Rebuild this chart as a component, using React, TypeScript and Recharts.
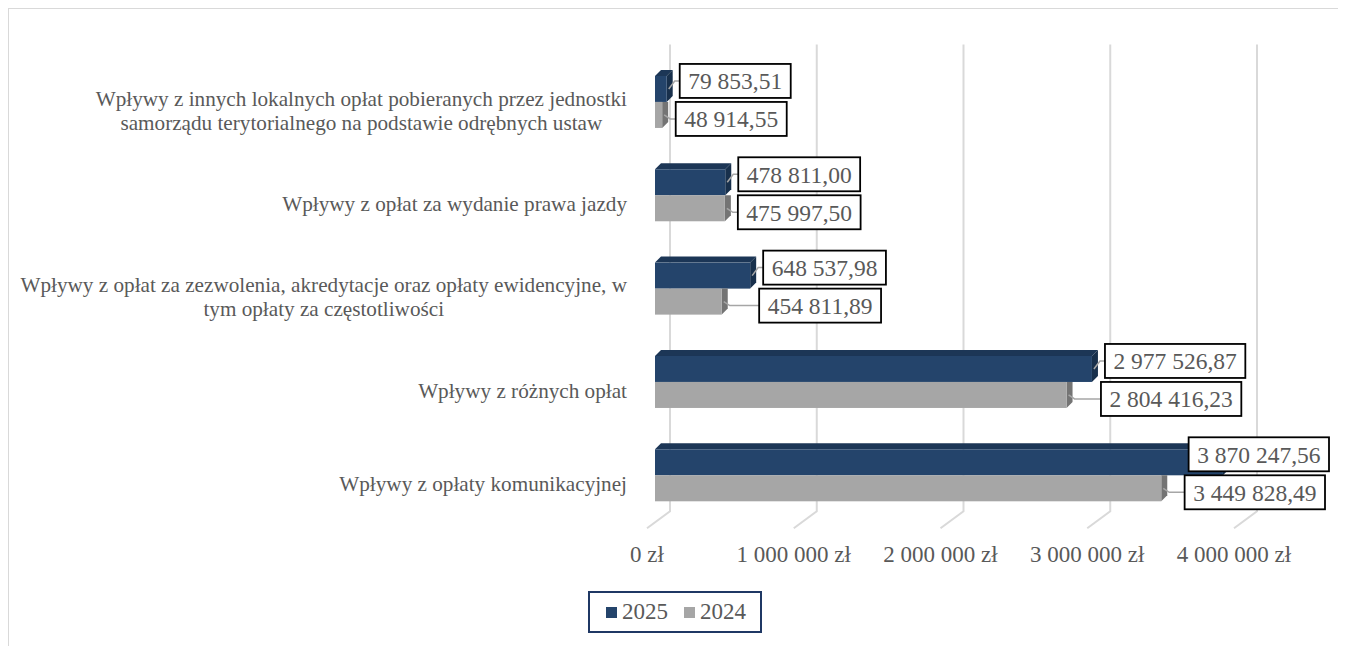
import React from "react";
import {
  BarChart,
  Bar,
  XAxis,
  YAxis,
  CartesianGrid,
  Legend,
  LabelList,
} from "recharts";

// categories, top to bottom (line breaks as in the original)
const categories = [
  "Wpływy z innych lokalnych opłat pobieranych przez jednostki\nsamorządu terytorialnego na podstawie odrębnych ustaw",
  "Wpływy z opłat za wydanie prawa jazdy",
  "Wpływy z opłat za zezwolenia, akredytacje oraz opłaty ewidencyjne, w\ntym opłaty za częstotliwości",
  "Wpływy z różnych opłat",
  "Wpływy z opłaty komunikacyjnej",
];
const values2025 = [79853.51, 478811.0, 648537.98, 2977526.87, 3870247.56];
const values2024 = [48914.55, 475997.5, 454811.89, 2804416.23, 3449828.49];
const xTicks = [0, 1000000, 2000000, 3000000, 4000000];
const seriesOrder = ["2025", "2024"];

const data = categories.map((name, i) => ({
  name,
  v2025: values2025[i],
  v2024: values2024[i],
}));

const FONT = '"Liberation Serif", "Times New Roman", serif';
const TEXT = "#595959";
const BLUE = "#24446b";
const BLUE_TOP = "#1c3656";
const BLUE_SIDE = "#18304c";
const GRAY = "#a6a6a6";
const GRAY_SIDE = "#747474";
const GRID = "#d9d9d9";

const DX = 6; // bar depth
const DY = 6;
const LABEL_FS = 23.5;
const CAT_FS = 21.2;
const CAT_RIGHT = 618;
const BOX_RIGHT_LIMIT = 1320;

let ctx: CanvasRenderingContext2D | null = null;
function textWidth(s: string, size: number) {
  if (!ctx) ctx = document.createElement("canvas").getContext("2d");
  if (!ctx) return s.length * size * 0.45;
  ctx.font = `${size}px ${FONT}`;
  return ctx.measureText(s).width;
}

const group = (s: string) => s.replace(/\B(?=(\d{3})+(?!\d))/g, " ");
const fmt = (v: number) => {
  const [i, d] = v.toFixed(2).split(".");
  return group(i) + "," + d;
};
const fmtTick = (v: number) => group(String(v)) + " zł";

function BlueBar(p: any) {
  const { x, y, width: w, height: h } = p;
  return (
    <g>
      <polygon
        points={`${x},${y} ${x + DX},${y - DY} ${x + w + DX},${y - DY} ${x + w},${y}`}
        fill={BLUE_TOP}
      />
      <polygon
        points={`${x + w},${y} ${x + w + DX},${y - DY} ${x + w + DX},${y + h - DY} ${x + w},${y + h}`}
        fill={BLUE_SIDE}
      />
      <rect x={x} y={y} width={w} height={h} fill={BLUE} />
    </g>
  );
}

function GrayBar(p: any) {
  const { x, y, width: w, height: h } = p;
  return (
    <g>
      <polygon
        points={`${x + w},${y} ${x + w + DX},${y} ${x + w + DX},${y + h - DY} ${x + w},${y + h}`}
        fill={GRAY_SIDE}
      />
      <rect x={x} y={y} width={w} height={h} fill={GRAY} />
    </g>
  );
}

function boxFor(end: number, text: string) {
  const bw = textWidth(text, LABEL_FS) + 17;
  const bx = Math.min(end + DX + 7, BOX_RIGHT_LIMIT - bw);
  return { bx, bw };
}

function DataBox({ end, cy, bx, bw, by, text }: any) {
  const bh = 34;
  return (
    <g>
      <polyline
        points={`${end + 2},${cy} ${end + 8},${by} ${bx},${by}`}
        fill="none"
        stroke={GRAY}
        strokeWidth={1.5}
      />
      <rect
        x={bx}
        y={by - bh / 2}
        width={bw}
        height={bh}
        fill="#fff"
        stroke="#000"
        strokeWidth={1.8}
      />
      <text
        x={bx + bw / 2}
        y={by}
        dy="0.35em"
        textAnchor="middle"
        fontFamily={FONT}
        fontSize={LABEL_FS}
        fill={TEXT}
      >
        {text}
      </text>
    </g>
  );
}

function vb(p: any) {
  const v = p.viewBox && p.viewBox.width !== undefined ? p.viewBox : p;
  return { x: +v.x, y: +v.y, w: +v.width, h: +v.height };
}

function BlueLabel(p: any) {
  const { x, y, w, h } = vb(p);
  const end = x + w;
  const text = fmt(values2025[p.index]);
  const { bx, bw } = boxFor(end, text);
  return <DataBox end={end} cy={y + h / 2} bx={bx} bw={bw} by={y + h / 2 - 8} text={text} />;
}

function GrayLabel(p: any) {
  const { x, y, w, h } = vb(p);
  const i = p.index;
  const end = x + w;
  const text = fmt(values2024[i]);
  // where the 2025 box went, from the same scale (bars start at 0)
  const blueEnd = x + (w * values2025[i]) / values2024[i];
  const blue = boxFor(blueEnd, fmt(values2025[i]));
  const own = boxFor(end, text);
  const bx = Math.max(own.bx, blue.bx - 4);
  return <DataBox end={end} cy={y + h / 2} bx={bx} bw={own.bw} by={y + h / 2 + 4} text={text} />;
}

function CategoryTick(p: any) {
  const { y, payload } = p;
  const lines = String(payload.value).split("\n");
  const w = Math.max(...lines.map((l) => textWidth(l, CAT_FS)));
  const cx = CAT_RIGHT - w / 2;
  const lh = 24;
  const y0 = y + 8 - ((lines.length - 1) * lh) / 2;
  return (
    <text textAnchor="middle" fontFamily={FONT} fontSize={CAT_FS} fill={TEXT}>
      {lines.map((l, k) => (
        <tspan key={k} x={cx} y={y0 + k * lh} dy="0.35em">
          {l}
        </tspan>
      ))}
    </text>
  );
}

function ValueTick(p: any) {
  const { x, y, payload } = p;
  return (
    <text
      x={x - 8}
      y={y + 39.5}
      textAnchor="middle"
      fontFamily={FONT}
      fontSize={23}
      fill={TEXT}
    >
      {fmtTick(payload.value)}
    </text>
  );
}

function GridLine(p: any) {
  const { x1, y1, y2 } = p;
  return (
    <path
      key={p.key}
      d={`M${x1 + 15},${y1 - 11}L${x1 + 15},${y2 - 11}L${x1 - 8},${y2 + 6}`}
      stroke={GRID}
      strokeWidth={2}
      fill="none"
    />
  );
}

function LegendBox(p: any) {
  const items = [...(p.payload || [])].sort(
    (a: any, b: any) =>
      seriesOrder.indexOf(String(a.value)) - seriesOrder.indexOf(String(b.value))
  );
  return (
    <div
      style={{
        boxSizing: "border-box",
        width: 174,
        height: 42,
        border: "2px solid #1f3864",
        display: "flex",
        alignItems: "center",
        paddingLeft: 16,
        fontFamily: FONT,
        fontSize: 23,
        color: TEXT,
        background: "#fff",
      }}
    >
      {items.map((it: any, k: number) => (
        <span
          key={k}
          style={{ display: "flex", alignItems: "center", marginRight: 16 }}
        >
          <span
            style={{
              display: "inline-block",
              width: 11,
              height: 11,
              background: it.color,
              marginRight: 5,
            }}
          />
          {it.value}
        </span>
      ))}
    </div>
  );
}

export default function App() {
  return (
    <div
      style={{
        width: 1330,
        height: 650,
        border: "1px solid #d9d9d9",
        position: "relative",
        background: "#fff",
      }}
    >
      <BarChart
        width={1330}
        height={640}
        data={data}
        layout="vertical"
        margin={{ top: 46.5, right: 97, left: 0, bottom: 86.8 }}
        barCategoryGap="21.9%"
        barGap={0}
      >
        <CartesianGrid horizontal={false} vertical={GridLine} />
        <XAxis
          type="number"
          domain={[0, 4000000]}
          ticks={xTicks}
          axisLine={false}
          tickLine={false}
          tickSize={0}
          tickMargin={0}
          height={40}
          tick={ValueTick}
          interval={0}
        />
        <YAxis
          type="category"
          dataKey="name"
          width={646}
          axisLine={false}
          tickLine={false}
          tick={CategoryTick}
          interval={0}
        />
        <Legend
          layout="horizontal"
          verticalAlign="middle"
          align="center"
          wrapperStyle={{ left: 579, top: 582, width: 174, height: 42 }}
          content={LegendBox}
        />
        <Bar
          dataKey="v2025"
          name="2025"
          fill={BLUE}
          shape={BlueBar}
          isAnimationActive={false}
        >
          <LabelList dataKey="v2025" content={BlueLabel} />
        </Bar>
        <Bar
          dataKey="v2024"
          name="2024"
          fill={GRAY}
          shape={GrayBar}
          isAnimationActive={false}
        >
          <LabelList dataKey="v2024" content={GrayLabel} />
        </Bar>
      </BarChart>
    </div>
  );
}
